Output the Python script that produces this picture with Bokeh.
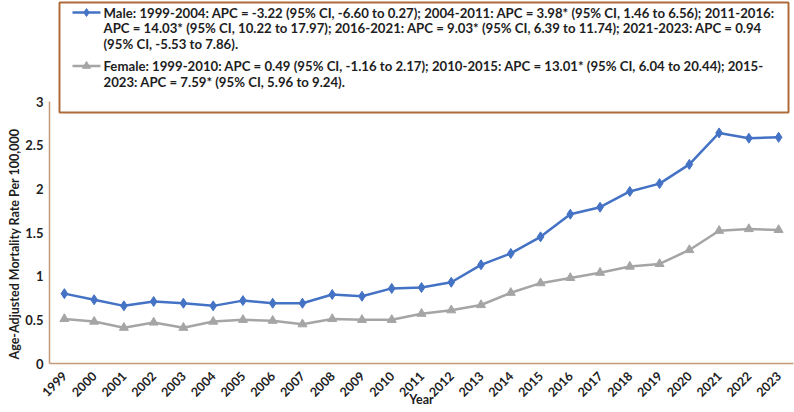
from bokeh.plotting import figure
from bokeh.models import Range1d, FixedTicker, Title
from bokeh.core.properties import value
from bokeh.embed import file_html
from bokeh.resources import INLINE
import math

years = list(range(1999, 2024))
year_labels = [str(y) for y in years]
male = [0.80, 0.73, 0.66, 0.71, 0.69, 0.66, 0.72, 0.69, 0.69, 0.79, 0.77, 0.86,
        0.87, 0.93, 1.13, 1.26, 1.45, 1.71, 1.79, 1.97, 2.06, 2.28, 2.64, 2.58, 2.59]
female = [0.51, 0.48, 0.41, 0.47, 0.41, 0.48, 0.50, 0.49, 0.45, 0.51, 0.50, 0.50,
          0.57, 0.61, 0.67, 0.81, 0.92, 0.98, 1.04, 1.11, 1.14, 1.30, 1.52, 1.54, 1.53]
y_ticks = [0, 0.5, 1, 1.5, 2, 2.5, 3]
y_tick_labels = ["0", "0.5", "1", "1.5", "2", "2.5", "3"]

male_text = [
    "Male: 1999-2004: APC = -3.22 (95% CI, -6.60 to 0.27); 2004-2011: APC = 3.98* (95% CI, 1.46 to 6.56); 2011-2016:",
    "APC = 14.03* (95% CI, 10.22 to 17.97); 2016-2021: APC = 9.03* (95% CI, 6.39 to 11.74); 2021-2023: APC = 0.94",
    "(95% CI, -5.53 to 7.86).",
]
female_text = [
    "Female: 1999-2010: APC = 0.49 (95% CI, -1.16 to 2.17); 2010-2015: APC = 13.01* (95% CI, 6.04 to 20.44); 2015-",
    "2023: APC = 7.59* (95% CI, 5.96 to 9.24).",
]
y_title = "Age-Adjusted Mortality Rate Per 100,000"

MALE_C = "#4472C4"
FEM_C = "#A5A5A5"
AXIS_C = "#C49A78"
BOX_C = "#B06A3A"
TXT_C = "#1e1e1e"
FONT = "Lato"

# frame geometry (pixels)
W, H = 794, 412
FL, FR, FT, FB = 49, 793, 0, 363
x0, x1 = 1998.5, 2023.5
ppu = 262 / 3.0
y1 = (FB - FT) / ppu

def dx(px):
    return x0 + (px - FL) * (x1 - x0) / (FR - FL)

def dy(py):
    return (FB - py) / ppu

p = figure(width=W, height=H, output_backend="svg", toolbar_location=None,
           x_range=Range1d(x0, x1), y_range=Range1d(0, y1),
           min_border_left=FL, min_border_right=W - FR, min_border_top=FT,
           min_border_bottom=H - FB)
p.outline_line_color = None
p.grid.visible = False
p.background_fill_color = "white"
p.border_fill_color = "white"

# axes
p.xaxis.ticker = FixedTicker(ticks=years)
p.xaxis.major_label_overrides = {y: l for y, l in zip(years, year_labels)}
p.xaxis.major_label_orientation = math.pi / 4
p.yaxis.ticker = FixedTicker(ticks=y_ticks)
p.yaxis.major_label_overrides = {t: l for t, l in zip(y_ticks, y_tick_labels)}
p.yaxis.bounds = (0, 3)
for ax in (p.xaxis, p.yaxis):
    ax.axis_line_color = AXIS_C
    ax.axis_line_width = 1.5
    ax.major_tick_line_color = None
    ax.minor_tick_line_color = None
    ax.major_tick_out = 0
    ax.major_tick_in = 0
    ax.minor_tick_out = 0
    ax.minor_tick_in = 0
    ax.major_label_text_font = FONT
    ax.major_label_text_font_style = "bold"
    ax.major_label_text_font_size = "13px"
    ax.major_label_text_color = TXT_C
    ax.axis_label_text_font = FONT
    ax.axis_label_text_font_style = "bold"
    ax.axis_label_text_color = TXT_C
p.xaxis.major_label_text_font_size = "12.5px"
p.xaxis.major_label_standoff = 10
p.xaxis.axis_label = "Year"
p.xaxis.axis_label_text_font_size = "12.5px"
p.xaxis.axis_label_standoff = -12
p.yaxis.major_label_standoff = 6

# data
p.line(years, female, line_color=FEM_C, line_width=2.5)
p.scatter(years, female, marker="triangle", size=9, fill_color=FEM_C, line_color=FEM_C)
p.line(years, male, line_color=MALE_C, line_width=2.5)
p.scatter(years, male, marker="diamond", size=10, fill_color=MALE_C, line_color=MALE_C)

# y-axis title, centred on the 0-3 span
p.add_layout(Title(text=y_title, align="left", offset=4, standoff=2,
                   text_font=FONT, text_font_style="bold", text_font_size="12.5px",
                   text_color=TXT_C), "left")

# legend box
p.quad(left=dx(59), right=dx(788), top=dy(2), bottom=dy(112),
       fill_color="white", line_color=BOX_C, line_width=2)
for ly, col, mk, sz in ((12, MALE_C, "diamond", 8), (65.5, FEM_C, "triangle", 8)):
    p.line([dx(72), dx(100)], [dy(ly), dy(ly)], line_color=col, line_width=2.5)
    p.scatter([dx(86)], [dy(ly)], marker=mk, size=sz, fill_color=col, line_color=col)

lines = male_text + female_text
ys_px = [12, 27.5, 43, 65.5, 81]
p.text(x=[dx(103)] * len(lines), y=[dy(v) for v in ys_px], text=lines,
       text_font=value(FONT), text_font_style="bold", text_font_size="13.2px",
       text_color=TXT_C, text_baseline="middle", text_align="left")

open("out.html", "w").write(file_html(p, INLINE))
